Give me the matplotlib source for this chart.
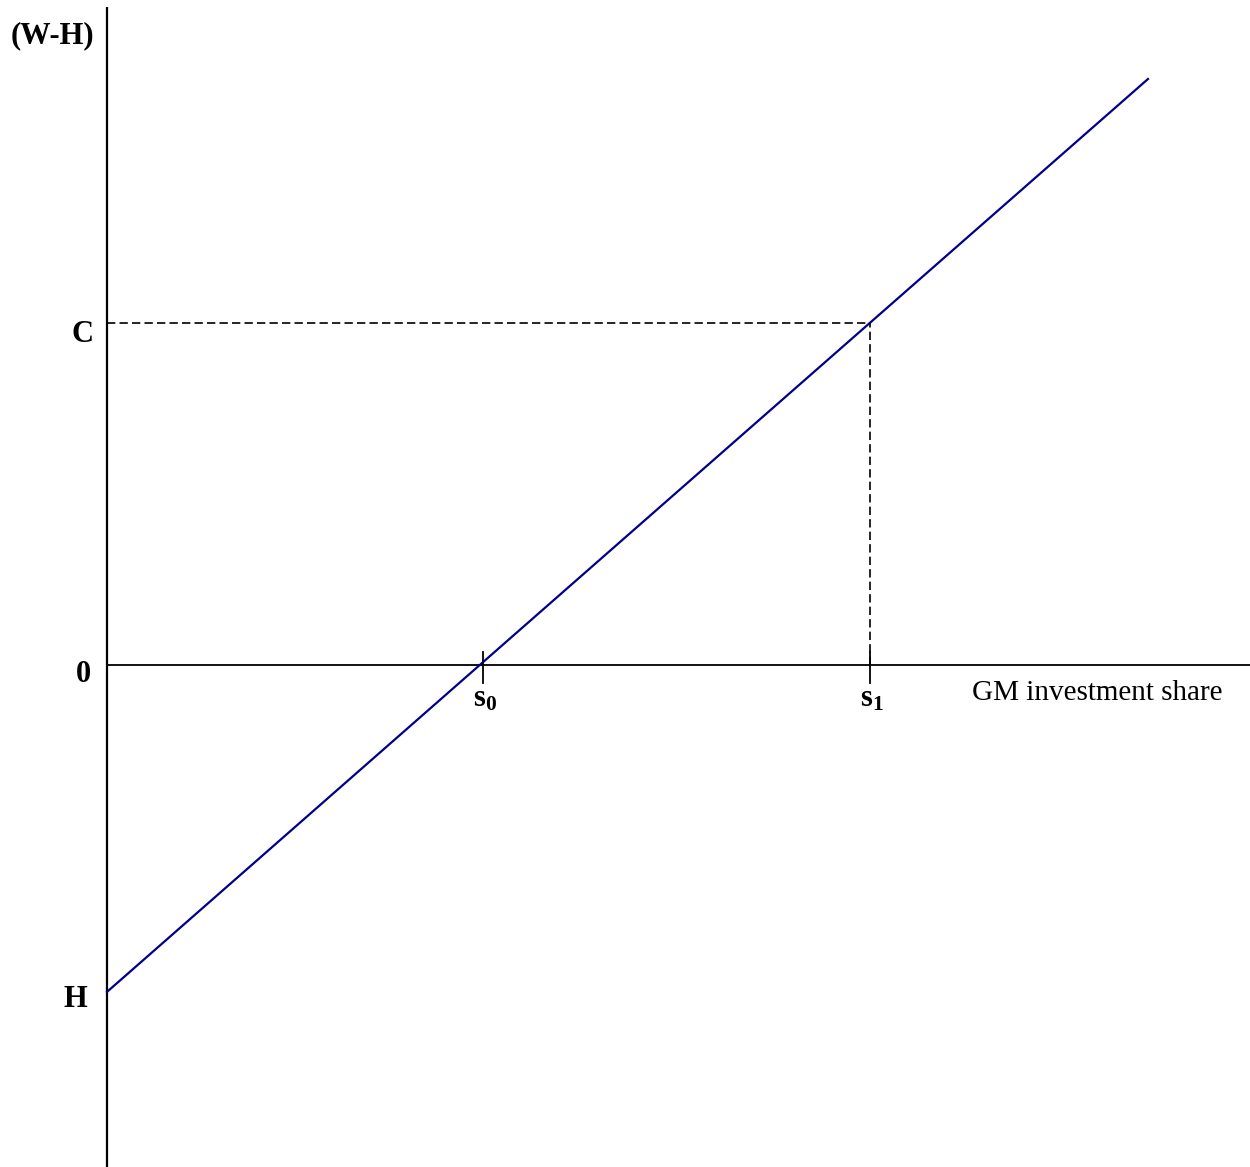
import matplotlib
matplotlib.use("Agg")
import matplotlib.pyplot as plt

# Conceptual values (x: share, y: W-H)
x_line = [0.0, 1.0]
y_line = [-0.956, 1.713]
s_ticks = [0.361, 0.733]
s_labels = [r"$\mathbf{s}_{\mathbf{0}}$", r"$\mathbf{s}_{\mathbf{1}}$"]
C_val = 1.0
H_val = -0.956
y_labels = ["C", "0", "H"]
y_label_vals = [C_val, 0.0, H_val]

plt.rcParams["mathtext.fontset"] = "custom"
plt.rcParams["mathtext.rm"] = "Liberation Serif"
plt.rcParams["mathtext.it"] = "Liberation Serif:italic"
plt.rcParams["mathtext.bf"] = "Liberation Serif:bold"

fig = plt.figure(figsize=(12.5, 11.67), dpi=100)
ax = fig.add_axes([0, 0, 1, 1])
ax.set_xlim(-0.1028, 1.098)
ax.set_ylim(-1.468, 1.944)
ax.axis("off")

serif = "Liberation Serif"

# axes
ax.plot([0, 0], [-1.468, 1.924], color="black", lw=1.6, solid_capstyle="butt")
ax.plot([0, 1.098], [0, 0], color="black", lw=1.3)

# main line
ax.plot(x_line, y_line, color="#00008B", lw=1.6)

# dashed guides
s1 = s_ticks[1]
ax.plot([0, s1], [C_val, C_val], color="black", lw=1.2, ls=(0, (5, 2.5)))
ax.plot([s1, s1], [0, C_val], color="black", lw=1.2, ls=(0, (5, 2.5)))

# tick marks and labels
for s, lab in zip(s_ticks, s_labels):
    ax.plot([s, s], [-0.053, 0.038], color="black", lw=1.3)
    ax.text(s + 0.002, -0.123, lab, fontsize=22, ha="center", va="baseline")

# y labels (offsets per label, in data units)
label_dx = [-0.024, -0.023, -0.030]
label_dy = [-0.035, -0.027, -0.021]
for lab, v, dx, dy in zip(y_labels, y_label_vals, label_dx, label_dy):
    ax.text(dx, v + dy, lab, fontsize=22, fontweight="bold", family=serif,
            ha="center", va="center")

ax.text(-0.0528, 1.839, "(W-H)", fontsize=22, fontweight="bold", family=serif,
        ha="center", va="center")
ax.text(0.8305, -0.083, "GM investment share", fontsize=21, family=serif,
        ha="left", va="center")

fig.savefig("out.png", dpi=100)
